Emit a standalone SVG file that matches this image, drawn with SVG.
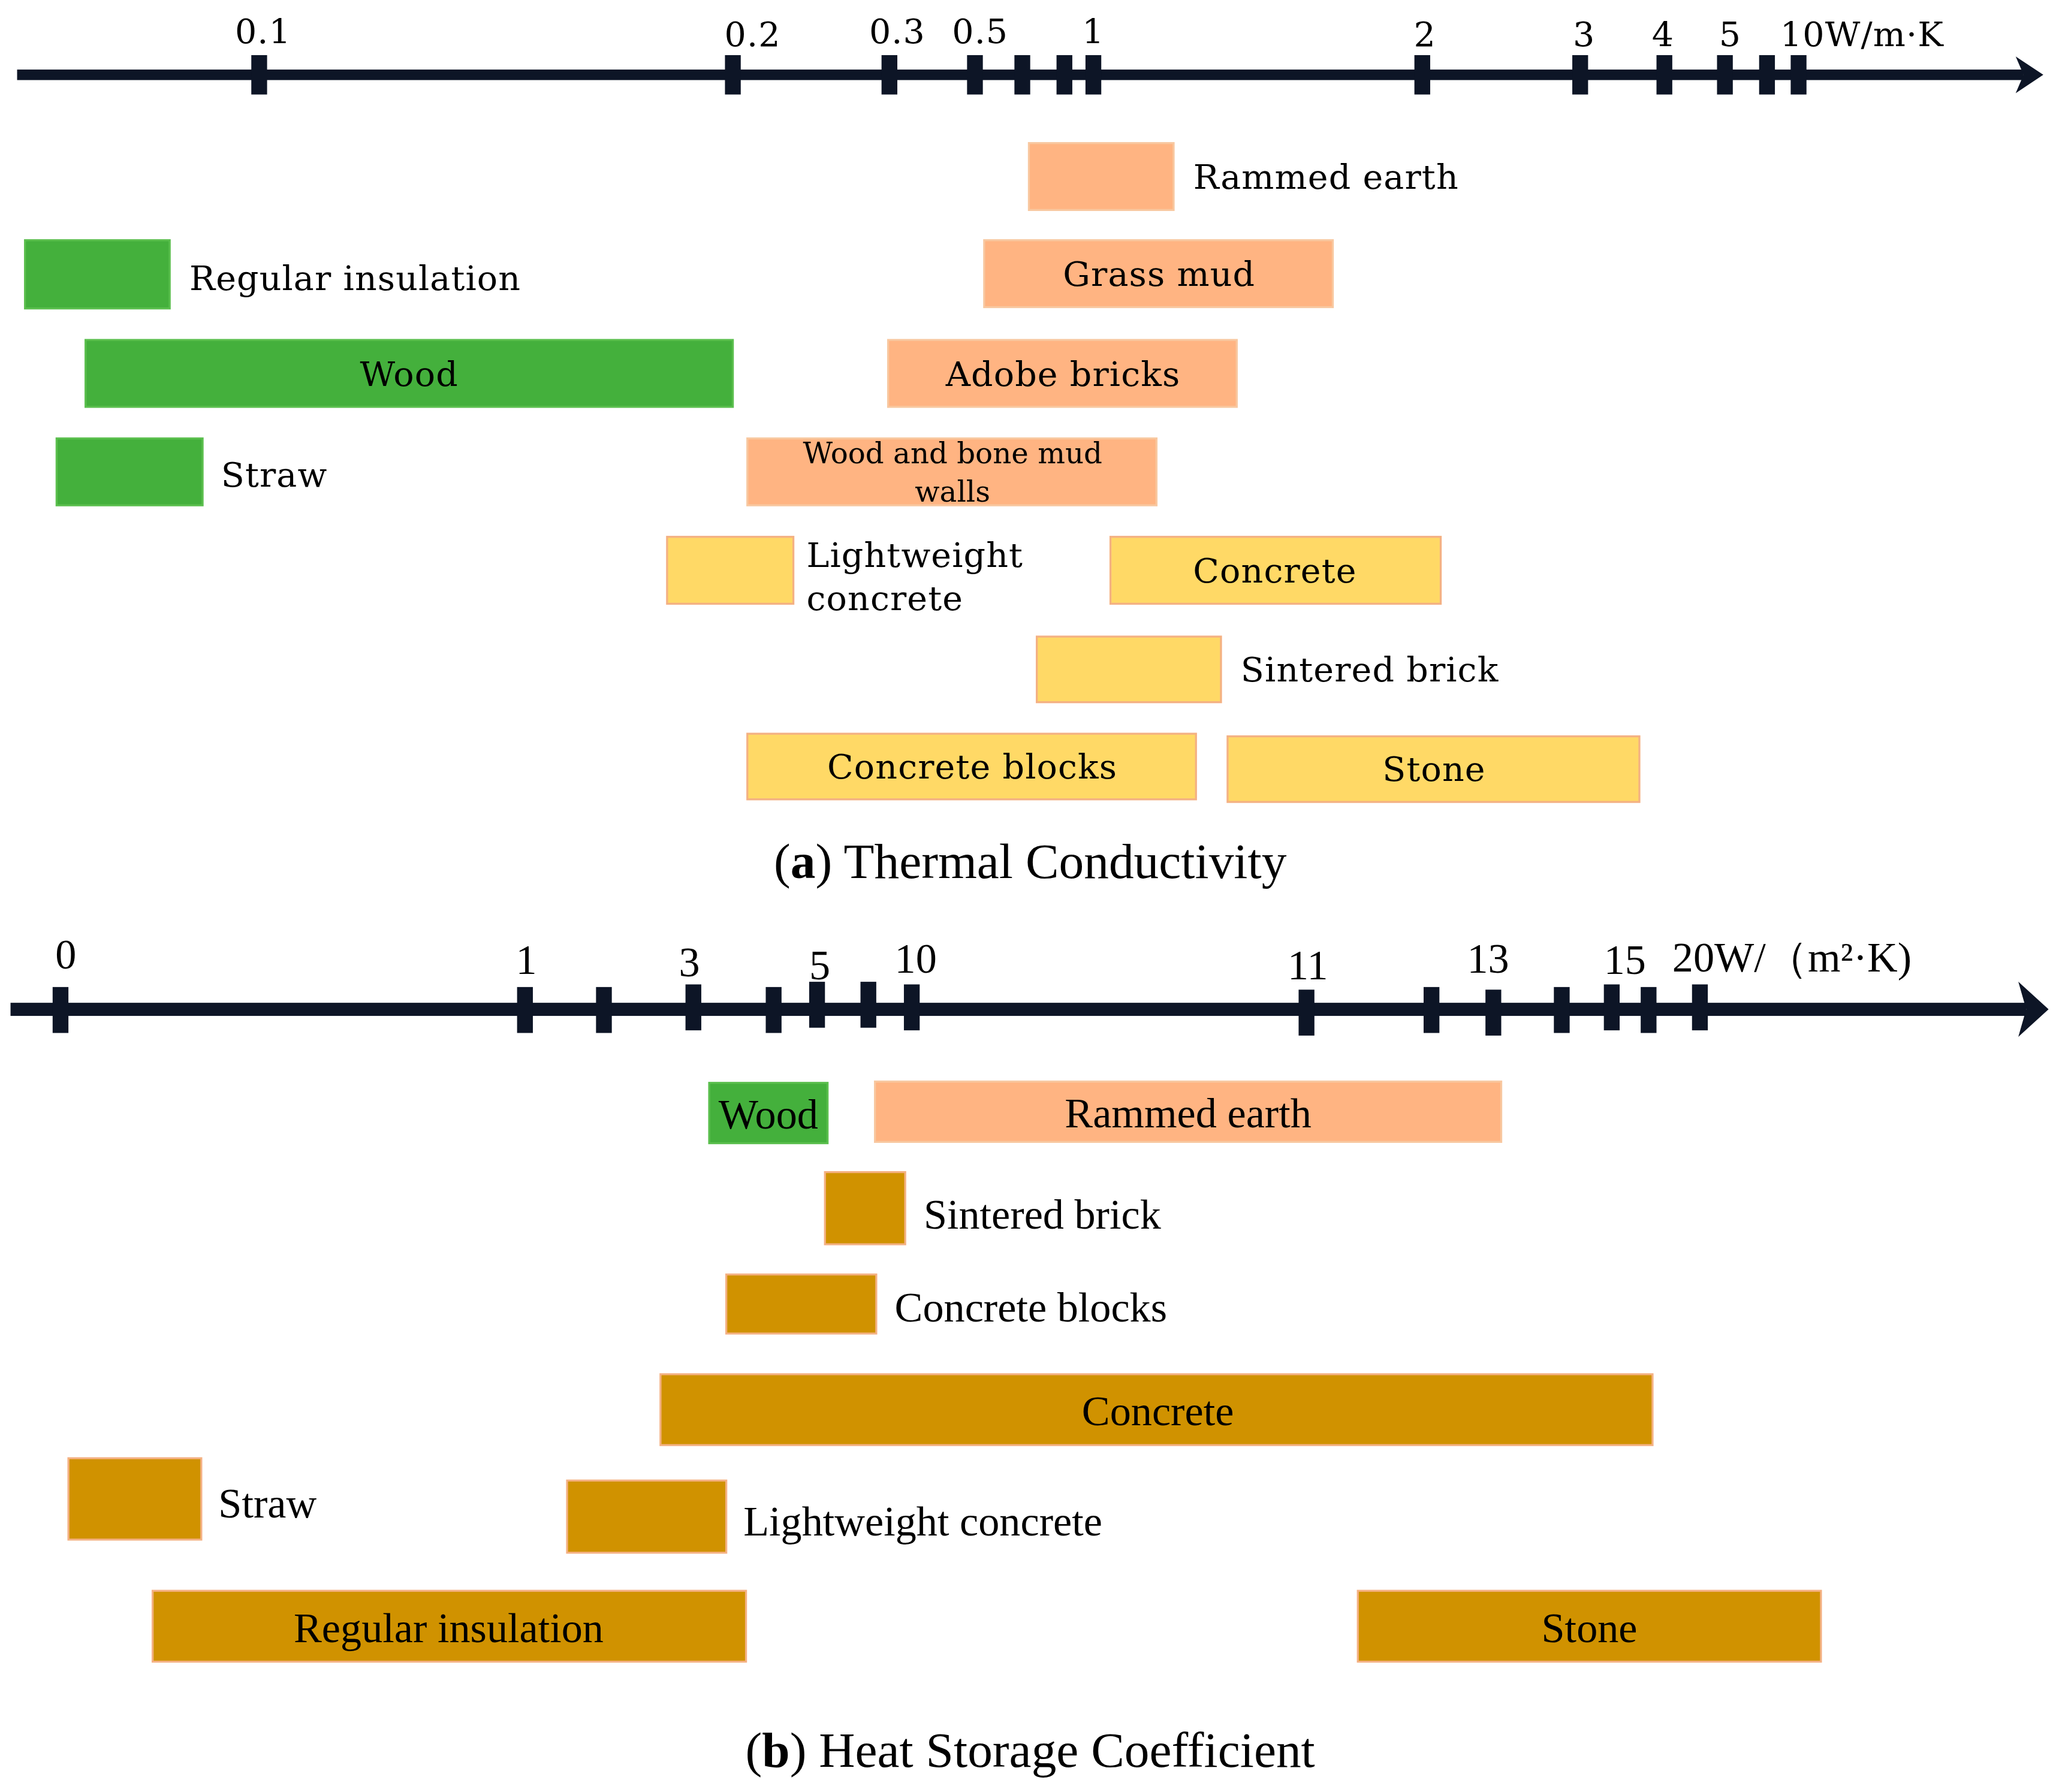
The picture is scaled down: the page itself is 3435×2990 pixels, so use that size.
<svg xmlns="http://www.w3.org/2000/svg" width="3435" height="2990" viewBox="0 0 3435 2990">
<style>
.ax{fill:#0d1526}
.t{font-family:"DejaVu Serif","Liberation Serif",serif;fill:#000}
.a{font-size:26px;letter-spacing:0.5px}
.b{font-family:"Liberation Serif",serif;font-size:32px}
.cap{font-family:"Liberation Serif",serif;font-size:38px}
.sal{fill:#FFB482;stroke:#F8C8A0;stroke-width:1.5}
.grn{fill:#44B03C;stroke:#5BBF4E;stroke-width:1.5}
.yel{fill:#FFD966;stroke:#F4B183;stroke-width:1.5}
.gold{fill:#D09200;stroke:#F4B183;stroke-width:1.5}
</style>
<rect width="3435" height="2990" fill="#fff"/>
<g transform="scale(2.195 2.19)">
<g id="connectors">
<g id="axis-a">
<rect class="ax" x="13" y="53" width="1525" height="8"/>
<polygon class="ax" points="1532,43 1553,57 1532,71 1538,57"/>
<g class="ax">
<rect x="191" y="42" width="12" height="30"/><rect x="551" y="42" width="12" height="30"/><rect x="670" y="42" width="12" height="30"/><rect x="735" y="42" width="12" height="30"/><rect x="771" y="42" width="12" height="30"/><rect x="803" y="42" width="12" height="30"/><rect x="825" y="42" width="12" height="30"/><rect x="1075" y="42" width="12" height="30"/><rect x="1195" y="42" width="12" height="30"/><rect x="1259" y="42" width="12" height="30"/><rect x="1305" y="42" width="12" height="30"/><rect x="1337" y="42" width="12" height="30"/><rect x="1361" y="42" width="12" height="30"/>
</g>
</g>
<g id="axis-b">
<rect class="ax" x="8" y="764" width="1532" height="10"/>
<polygon class="ax" points="1534,748 1557,769 1534,790 1540,769"/>
<g class="ax">
<rect x="40" y="752" width="12" height="35"/><rect x="393" y="752" width="12" height="35"/><rect x="453" y="752" width="12" height="35"/><rect x="521" y="750" width="12" height="35"/><rect x="582" y="752" width="12" height="35"/><rect x="615" y="748" width="12" height="35"/><rect x="654" y="748" width="12" height="35"/><rect x="687" y="750" width="12" height="35"/><rect x="987" y="754" width="12" height="35"/><rect x="1082" y="752" width="12" height="35"/><rect x="1129" y="754" width="12" height="35"/><rect x="1181" y="752" width="12" height="35"/><rect x="1219" y="750" width="12" height="35"/><rect x="1247" y="752" width="12" height="35"/><rect x="1286" y="750" width="12" height="35"/>
</g>
</g>
</g>
<g id="labels-a" class="t a" text-anchor="middle">
<text x="200" y="33">0.1</text><text x="572" y="35">0.2</text><text x="682" y="33">0.3</text><text x="745" y="33">0.5</text><text x="831" y="33">1</text><text x="1083" y="35">2</text><text x="1204" y="35">3</text><text x="1264" y="35">4</text><text x="1315" y="35">5</text><text x="1353" y="35" text-anchor="start">10W/m·K</text>
</g>
<g id="labels-b" class="t b" text-anchor="middle">
<text x="50" y="738">0</text><text x="400" y="742">1</text><text x="524" y="744">3</text><text x="623" y="746">5</text><text x="696" y="741">10</text><text x="994" y="746">11</text><text x="1131" y="741">13</text><text x="1235" y="742">15</text><text x="1271" y="740" text-anchor="start">20W/（m²·K)</text>
</g>
<g id="a-rammed-earth"><rect class="sal" x="782" y="109" width="110" height="51"/><text class="t a" x="907" y="144">Rammed earth</text></g>
<g id="a-regular-insulation"><rect class="grn" x="19" y="183" width="110" height="52"/><text class="t a" x="144" y="221">Regular insulation</text></g>
<g id="a-grass-mud"><rect class="sal" x="748" y="183" width="265" height="51"/><text class="t a" x="881" y="218" text-anchor="middle">Grass mud</text></g>
<g id="a-wood"><rect class="grn" x="65" y="259" width="492" height="51"/><text class="t a" x="311" y="294" text-anchor="middle">Wood</text></g>
<g id="a-adobe"><rect class="sal" x="675" y="259" width="265" height="51"/><text class="t a" x="808" y="294" text-anchor="middle">Adobe bricks</text></g>
<g id="a-straw"><rect class="grn" x="43" y="334" width="111" height="51"/><text class="t a" x="168" y="371">Straw</text></g>
<g id="a-wood-bone"><rect class="sal" x="568" y="334" width="311" height="51"/><text class="t" font-size="22" x="724" y="353" text-anchor="middle">Wood and bone mud</text><text class="t" font-size="22" x="724" y="382" text-anchor="middle">walls</text></g>
<g id="a-lightweight"><rect class="yel" x="507" y="409" width="96" height="51"/><text class="t a" x="613" y="432">Lightweight</text><text class="t a" x="613" y="465">concrete</text></g>
<g id="a-concrete"><rect class="yel" x="844" y="409" width="251" height="51"/><text class="t a" x="969" y="444" text-anchor="middle">Concrete</text></g>
<g id="a-sintered"><rect class="yel" x="788" y="485" width="140" height="50"/><text class="t a" x="943" y="519">Sintered brick</text></g>
<g id="a-concrete-blocks"><rect class="yel" x="568" y="559" width="341" height="50"/><text class="t a" x="739" y="593" text-anchor="middle">Concrete blocks</text></g>
<g id="a-stone"><rect class="yel" x="933" y="561" width="313" height="50"/><text class="t a" x="1090" y="595" text-anchor="middle">Stone</text></g>
<text class="t cap" x="783" y="669" text-anchor="middle">(<tspan font-weight="bold">a</tspan>) Thermal Conductivity</text>
<g id="b-wood"><rect class="grn" x="539" y="825" width="90" height="46"/><text class="t b" x="584" y="860" text-anchor="middle">Wood</text></g>
<g id="b-rammed-earth"><rect class="sal" x="665" y="824" width="476" height="46"/><text class="t b" x="903" y="859" text-anchor="middle">Rammed earth</text></g>
<g id="b-sintered"><rect class="gold" x="627" y="893" width="61" height="55"/><text class="t b" x="702" y="936">Sintered brick</text></g>
<g id="b-concrete-blocks"><rect class="gold" x="552" y="971" width="114" height="45"/><text class="t b" x="680" y="1007">Concrete blocks</text></g>
<g id="b-concrete"><rect class="gold" x="502" y="1047" width="754" height="54"/><text class="t b" x="880" y="1086" text-anchor="middle">Concrete</text></g>
<g id="b-straw"><rect class="gold" x="52" y="1111" width="101" height="62"/><text class="t b" x="166" y="1156">Straw</text></g>
<g id="b-lightweight"><rect class="gold" x="431" y="1128" width="121" height="55"/><text class="t b" x="565" y="1170">Lightweight concrete</text></g>
<g id="b-regular-insulation"><rect class="gold" x="116" y="1212" width="451" height="54"/><text class="t b" x="341" y="1251" text-anchor="middle">Regular insulation</text></g>
<g id="b-stone"><rect class="gold" x="1032" y="1212" width="352" height="54"/><text class="t b" x="1208" y="1251" text-anchor="middle">Stone</text></g>
<text class="t cap" x="783" y="1346" text-anchor="middle">(<tspan font-weight="bold">b</tspan>) Heat Storage Coefficient</text>
</g>
</svg>
